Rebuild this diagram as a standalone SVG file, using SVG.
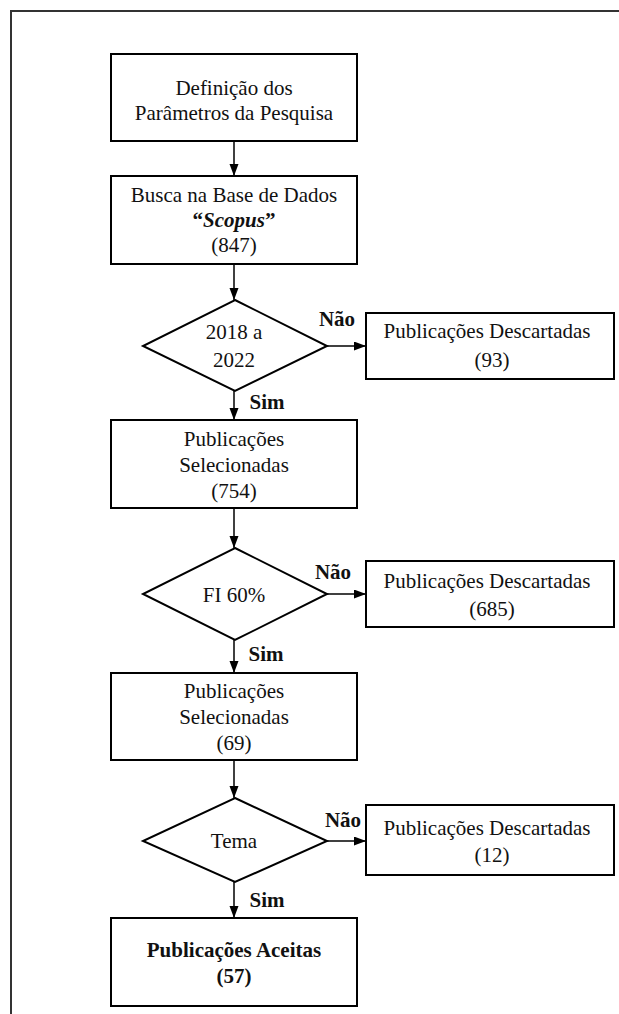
<svg xmlns="http://www.w3.org/2000/svg" width="619" height="1014" viewBox="0 0 619 1014">
<defs>
<marker id="ah" markerUnits="userSpaceOnUse" markerWidth="12" markerHeight="10" refX="12" refY="4.5" orient="auto">
<path d="M0,0 L12,4.5 L0,9 Z" fill="#000"/>
</marker>
<style>
.box{fill:#fff;stroke:#000;stroke-width:2}
.t{font-family:"Liberation Serif","Times New Roman",serif;font-size:21px;fill:#111;text-anchor:middle}
.b{font-weight:bold}
.c{fill:none;stroke:#000;stroke-width:1.5;marker-end:url(#ah)}
.frame{fill:none;stroke:#333;stroke-width:2}
</style>
</defs>
<rect width="619" height="1014" fill="#fff"/>
<path class="frame" d="M11,1014 L11,11 L619,11"/>

<g id="connectors">
<path class="c" d="M234,141 L234,176"/>
<path class="c" d="M234,264 L234,300"/>
<path class="c" d="M327,346 L366,346"/>
<path class="c" d="M234,391 L234,420"/>
<path class="c" d="M234,508 L234,548"/>
<path class="c" d="M327,594 L366,594"/>
<path class="c" d="M234,640 L234,673"/>
<path class="c" d="M234,760 L234,798"/>
<path class="c" d="M327,841 L366,841"/>
<path class="c" d="M234,882 L234,918"/>
<text class="t b" x="337" y="326">Não</text>
<text class="t b" x="267" y="409">Sim</text>
<text class="t b" x="333" y="579">Não</text>
<text class="t b" x="266" y="661">Sim</text>
<text class="t b" x="343" y="827">Não</text>
<text class="t b" x="267" y="907">Sim</text>
</g>

<g id="n1">
<rect class="box" x="111" y="54" width="246" height="87"/>
<text class="t" x="234" y="95">Definição dos</text>
<text class="t" x="234" y="120">Parâmetros da Pesquisa</text>
</g>
<g id="n2">
<rect class="box" x="111" y="176" width="246" height="88"/>
<text class="t" x="234" y="202">Busca na Base de Dados</text>
<text class="t b" x="234" y="227">“<tspan font-style="italic">Scopus</tspan>”</text>
<text class="t" x="234" y="252">(847)</text>
</g>
<g id="d1">
<polygon class="box" points="235,300 327,346 235,391 143,346"/>
<text class="t" x="234" y="339">2018 a</text>
<text class="t" x="234" y="367">2022</text>
</g>
<g id="r1">
<rect class="box" x="366" y="313" width="248" height="66"/>
<text class="t" x="487" y="338">Publicações Descartadas</text>
<text class="t" x="492" y="367">(93)</text>
</g>
<g id="n3">
<rect class="box" x="111" y="420" width="246" height="88"/>
<text class="t" x="234" y="446">Publicações</text>
<text class="t" x="234" y="472">Selecionadas</text>
<text class="t" x="234" y="498">(754)</text>
</g>
<g id="d2">
<polygon class="box" points="235,548 327,594 235,640 143,594"/>
<text class="t" x="234" y="602">FI 60%</text>
</g>
<g id="r2">
<rect class="box" x="366" y="561" width="248" height="66"/>
<text class="t" x="487" y="588">Publicações Descartadas</text>
<text class="t" x="492" y="616">(685)</text>
</g>
<g id="n4">
<rect class="box" x="111" y="673" width="246" height="87"/>
<text class="t" x="234" y="698">Publicações</text>
<text class="t" x="234" y="724">Selecionadas</text>
<text class="t" x="234" y="750">(69)</text>
</g>
<g id="d3">
<polygon class="box" points="235,798 327,841 235,882 143,841"/>
<text class="t" x="234" y="848">Tema</text>
</g>
<g id="r3">
<rect class="box" x="366" y="805" width="248" height="70"/>
<text class="t" x="487" y="835">Publicações Descartadas</text>
<text class="t" x="492" y="862">(12)</text>
</g>
<g id="n5">
<rect class="box" x="111" y="918" width="246" height="88"/>
<text class="t b" x="234" y="957">Publicações Aceitas</text>
<text class="t b" x="234" y="983">(57)</text>
</g>
</svg>
